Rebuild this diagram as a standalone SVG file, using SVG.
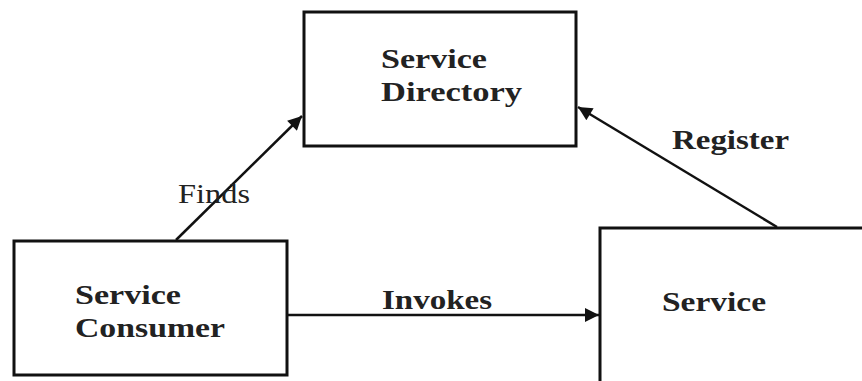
<svg xmlns="http://www.w3.org/2000/svg" width="862" height="381" viewBox="0 0 862 381">
<style>
.box{fill:#fff;stroke:#111;stroke-width:3}
.lbl{font-family:"Liberation Serif","Times New Roman",serif;font-weight:bold;font-size:28px;fill:#222}
.edge{stroke:#111;stroke-width:2.5;fill:none}
.elbl{font-family:"Liberation Serif","Times New Roman",serif;font-size:28px;fill:#222}
</style>
<defs>
<marker id="a" viewBox="0 0 10 10" refX="10" refY="5" markerWidth="16" markerHeight="14" markerUnits="userSpaceOnUse" orient="auto">
<path d="M0,0 L10,5 L0,10 z" fill="#111"/>
</marker>
</defs>
<rect width="862" height="381" fill="#fff"/>
<g id="directory">
<rect class="box" x="304" y="12" width="272" height="134"/>
<text class="lbl" x="381" y="68" textLength="106" lengthAdjust="spacingAndGlyphs">Service</text>
<text class="lbl" x="381" y="101" textLength="141" lengthAdjust="spacingAndGlyphs">Directory</text>
</g>
<g id="consumer">
<rect class="box" x="14" y="241" width="273" height="134"/>
<text class="lbl" x="75" y="304" textLength="106" lengthAdjust="spacingAndGlyphs">Service</text>
<text class="lbl" x="75" y="337" textLength="150" lengthAdjust="spacingAndGlyphs">Consumer</text>
</g>
<g id="service">
<rect class="box" x="600" y="228" width="280" height="170"/>
<text class="lbl" x="662" y="311" textLength="104" lengthAdjust="spacingAndGlyphs">Service</text>
</g>
<g id="connectors">
<line class="edge" x1="176" y1="240" x2="302" y2="116" marker-end="url(#a)"/>
<line class="edge" x1="777" y1="227" x2="578" y2="107" marker-end="url(#a)"/>
<line class="edge" x1="287" y1="315" x2="599" y2="315" marker-end="url(#a)"/>
<text class="elbl" x="178" y="203" textLength="72" lengthAdjust="spacingAndGlyphs">Finds</text>
<text class="lbl" x="672" y="149" textLength="117" lengthAdjust="spacingAndGlyphs">Register</text>
<text class="lbl" x="382" y="309" textLength="110" lengthAdjust="spacingAndGlyphs">Invokes</text>
</g>
</svg>
